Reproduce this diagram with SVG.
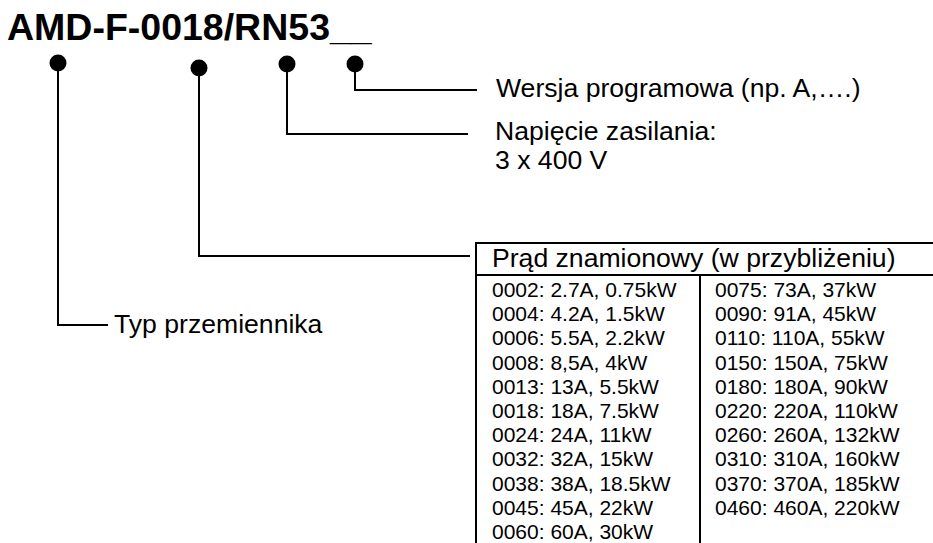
<svg xmlns="http://www.w3.org/2000/svg" width="933" height="543" viewBox="0 0 933 543">
<style>
text{font-family:"Liberation Sans",Arial,sans-serif;fill:#000}
.t{font-weight:bold;font-size:37.5px}
.l{font-size:26.6px}
.r{font-size:21px}
.c{fill:none;stroke:#000;stroke-width:2}
.d{fill:#000}
</style>
<rect width="933" height="543" fill="#fff"/>
<g id="title"><text class="t" x="7" y="40">AMD-F-0018/RN53__</text></g>
<g id="connectors">
<circle class="d" cx="58" cy="63" r="8.5"/>
<circle class="d" cx="199" cy="68" r="8.5"/>
<circle class="d" cx="287" cy="64" r="8.5"/>
<circle class="d" cx="355" cy="64" r="8.5"/>
<polyline class="c" points="58,63 58,325 108,325"/>
<polyline class="c" points="199,68 199,256 470,256"/>
<polyline class="c" points="287,64 287,134 468,134"/>
<polyline class="c" points="355,64 355,90 477,90"/>
</g>
<g id="wersja"><text class="l" x="496" y="97">Wersja programowa (np. A,….)</text></g>
<g id="napiecie"><text class="l" x="495" y="140">Napięcie zasilania:</text><text class="l" x="495" y="169">3 x 400 V</text></g>
<g id="typ"><text class="l" x="114" y="333">Typ przemiennika</text></g>
<g id="table">
<rect class="c" x="476" y="243" width="470" height="320"/>
<line class="c" x1="476" y1="275" x2="946" y2="275"/>
<line class="c" x1="700" y1="275" x2="700" y2="563"/>
<text class="l" x="492" y="267">Prąd znamionowy (w przybliżeniu)</text>
<g class="r">
<text class="r" x="492" y="297">0002: 2.7A, 0.75kW</text>
<text class="r" x="492" y="321.2">0004: 4.2A, 1.5kW</text>
<text class="r" x="492" y="345.4">0006: 5.5A, 2.2kW</text>
<text class="r" x="492" y="369.6">0008: 8,5A, 4kW</text>
<text class="r" x="492" y="393.8">0013: 13A, 5.5kW</text>
<text class="r" x="492" y="418">0018: 18A, 7.5kW</text>
<text class="r" x="492" y="442.2">0024: 24A, 11kW</text>
<text class="r" x="492" y="466.4">0032: 32A, 15kW</text>
<text class="r" x="492" y="490.6">0038: 38A, 18.5kW</text>
<text class="r" x="492" y="514.8">0045: 45A, 22kW</text>
<text class="r" x="492" y="539">0060: 60A, 30kW</text>
<text class="r" x="715" y="297">0075: 73A, 37kW</text>
<text class="r" x="715" y="321.2">0090: 91A, 45kW</text>
<text class="r" x="715" y="345.4">0110: 110A, 55kW</text>
<text class="r" x="715" y="369.6">0150: 150A, 75kW</text>
<text class="r" x="715" y="393.8">0180: 180A, 90kW</text>
<text class="r" x="715" y="418">0220: 220A, 110kW</text>
<text class="r" x="715" y="442.2">0260: 260A, 132kW</text>
<text class="r" x="715" y="466.4">0310: 310A, 160kW</text>
<text class="r" x="715" y="490.6">0370: 370A, 185kW</text>
<text class="r" x="715" y="514.8">0460: 460A, 220kW</text>
</g>
</g>
</svg>
